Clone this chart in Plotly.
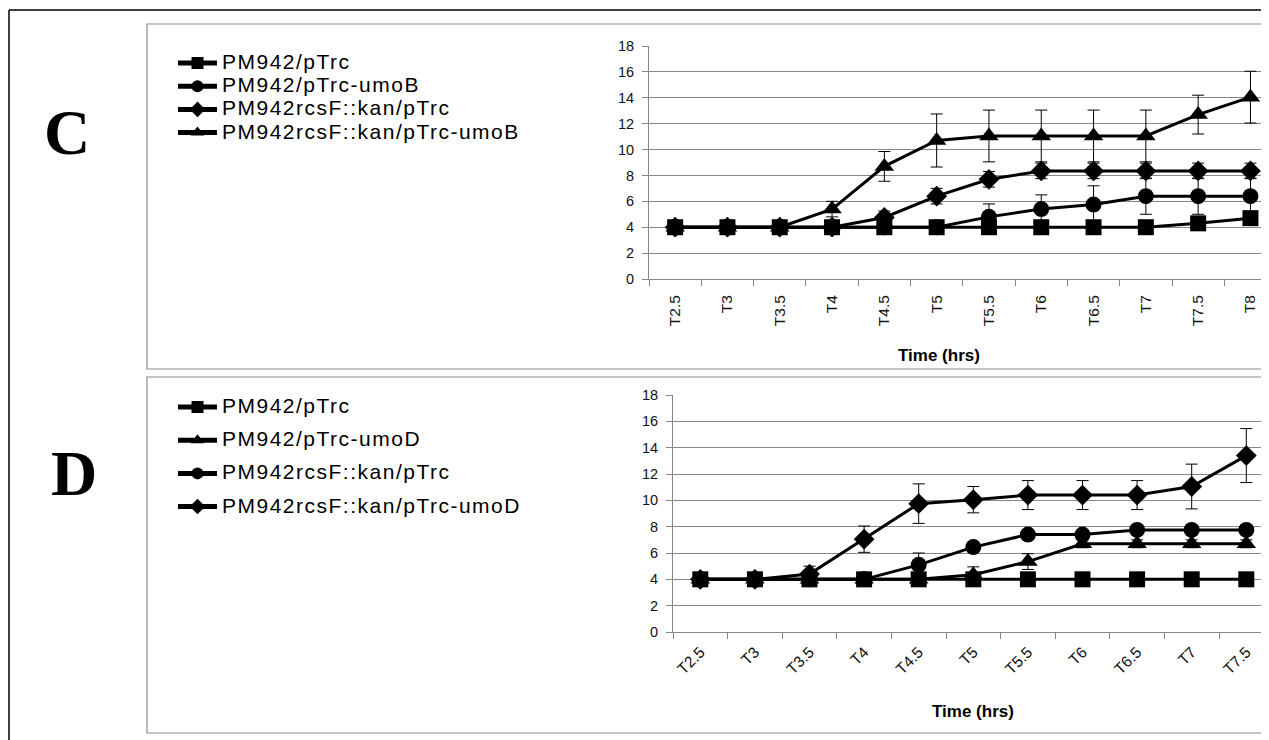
import plotly.graph_objects as go

W, H = 1269, 740
OFF = 8  # page body margin offset of the html page

# ---------------- Data ----------------
cats_c = ["T2.5", "T3", "T3.5", "T4", "T4.5", "T5", "T5.5", "T6", "T6.5", "T7", "T7.5", "T8"]
cats_d = ["T2.5", "T3", "T3.5", "T4", "T4.5", "T5", "T5.5", "T6", "T6.5", "T7", "T7.5"]

names_c = ["PM942/pTrc", "PM942/pTrc-umoB", "PM942rcsF::kan/pTrc", "PM942rcsF::kan/pTrc-umoB"]
symbols_c = ["square", "circle", "diamond", "triangle-up"]

c_sq = [4, 4, 4, 4, 4, 4, 4, 4, 4, 4, 4.3, 4.7]
c_sq_err = [0, 0, 0, 0, 0, 0, 0, 0, 0, 0, 0, 0]
c_ci = [4, 4, 4, 4, 4, 4, 4.8, 5.4, 5.75, 6.4, 6.4, 6.4]
c_ci_err = [0, 0, 0, 0, 0, 0, 1.0, 1.1, 1.45, 1.4, 1.4, 1.4]
c_di = [4, 4, 4, 4, 4.75, 6.4, 7.7, 8.35, 8.35, 8.35, 8.35, 8.35]
c_di_err = [0, 0, 0, 0, 0.5, 0.6, 0.6, 0.6, 0.6, 0.6, 0.6, 0.6]
c_tr = [4, 4, 4, 5.4, 8.7, 10.7, 11.05, 11.05, 11.05, 11.05, 12.7, 14.05]
c_tr_err = [0, 0, 0, 0.6, 1.15, 2.05, 2.0, 2.0, 2.0, 2.0, 1.5, 2.0]

names_d = ["PM942/pTrc", "PM942/pTrc-umoD", "PM942rcsF::kan/pTrc", "PM942rcsF::kan/pTrc-umoD"]
symbols_d = ["square", "triangle-up", "circle", "diamond"]

d_sq = [4, 4, 4, 4, 4, 4, 4, 4, 4, 4, 4]
d_sq_err = [0, 0, 0, 0, 0, 0, 0, 0, 0, 0, 0]
d_tr = [4, 4, 4, 4, 4, 4.35, 5.35, 6.7, 6.7, 6.7, 6.7]
d_tr_err = [0, 0, 0, 0, 0, 0.6, 0.6, 0.3, 0.3, 0.3, 0.3]
d_ci = [4, 4, 4, 4, 5.1, 6.45, 7.4, 7.4, 7.75, 7.75, 7.75]
d_ci_err = [0, 0, 0, 0, 0.9, 0.3, 0.3, 0.3, 0.3, 0.3, 0.3]
d_di = [4, 4, 4.4, 7.05, 9.75, 10.05, 10.4, 10.4, 10.4, 11.05, 13.4]
d_di_err = [0, 0, 0.6, 1.0, 1.5, 1.0, 1.1, 1.1, 1.1, 1.7, 2.05]

# ---------------- Helpers (screen pixel -> paper) ----------------
def px(x):
    return (x - OFF) / W

def py(y):
    return 1 - (y - OFF) / H

FONT = "Liberation Sans, Arial, sans-serif"
GRID = "#878787"
LEGEND_TEXT_STYLE = "font-size:21px;letter-spacing:1.5px"

marker_sizes = {"square": 16, "circle": 16, "diamond": 16, "triangle-up": 17}

fig = go.Figure()

def add_series(xcats, yvals, errs, name, sym, xa, ya, legend, group):
    fig.add_trace(go.Scatter(
        x=xcats, y=yvals,
        name=f'<span style="{LEGEND_TEXT_STYLE}">{name}</span>',
        mode="lines+markers",
        xaxis=xa, yaxis=ya, legend=legend, legendgroup=group,
        line=dict(color="black", width=3),
        marker=dict(symbol=sym, size=marker_sizes[sym], color="black"),
        error_y=dict(type="data", array=errs, visible=True, color="black",
                     thickness=1, width=6),
    ))

series_c = [(c_sq, c_sq_err), (c_ci, c_ci_err), (c_di, c_di_err), (c_tr, c_tr_err)]
for i, ((yv, er), nm, sym) in enumerate(zip(series_c, names_c, symbols_c)):
    add_series(cats_c, yv, er, nm, sym, "x", "y", "legend", f"c{i}")

series_d = [(d_sq, d_sq_err), (d_tr, d_tr_err), (d_ci, d_ci_err), (d_di, d_di_err)]
for i, ((yv, er), nm, sym) in enumerate(zip(series_d, names_d, symbols_d)):
    add_series(cats_d, yv, er, nm, sym, "x2", "y2", "legend2", f"d{i}")

# ---------------- Axes ----------------
c_left, c_step = 649, 52.3
d_left, d_step = 673, 54.6
right_edge = W + OFF  # screen x of paper x=1

xcommon = dict(type="category", showgrid=False, showline=True, linecolor=GRID,
               linewidth=1, ticks="outside", tickson="boundaries", ticklen=6,
               tickcolor=GRID, tickfont=dict(family=FONT, size=15.5, color="#111"),
               automargin=False, zeroline=False, fixedrange=True)
ycommon = dict(range=[0, 18], dtick=2, showgrid=True, gridcolor=GRID, gridwidth=1,
               showline=True, linecolor=GRID, linewidth=1, ticks="outside",
               ticklen=6, tickcolor=GRID, zeroline=False,
               tickfont=dict(family=FONT, size=14.5, color="#111"),
               automargin=False, ticklabelstandoff=5, fixedrange=True)

fig.update_layout(
    xaxis=dict(xcommon, domain=[px(c_left), 1], anchor="y",
               categoryorder="array", categoryarray=cats_c,
               range=[-0.5, (right_edge - c_left) / c_step - 0.5], tickangle=-90,
               ticklabelstandoff=9),
    yaxis=dict(ycommon, domain=[py(279), py(46)], anchor="x"),
    xaxis2=dict(xcommon, domain=[px(d_left), 1], anchor="y2",
                categoryorder="array", categoryarray=cats_d,
                range=[-0.5, (right_edge - d_left) / d_step - 0.5], tickangle=-45,
                ticklabelstandoff=4),
    yaxis2=dict(ycommon, domain=[py(632), py(395)], anchor="x2"),
)

# ---------------- Legends ----------------
fig.update_layout(
    legend=dict(x=px(173), y=py(46.5), xanchor="left", yanchor="top",
                font=dict(family=FONT, size=15.5, color="black"),
                bgcolor="rgba(0,0,0,0)", tracegroupgap=0, itemwidth=39,
                itemsizing="constant"),
    legend2=dict(x=px(173), y=py(390.5), xanchor="left", yanchor="top",
                 font=dict(family=FONT, size=15.5, color="black"),
                 bgcolor="rgba(0,0,0,0)", tracegroupgap=10, itemwidth=39,
                 itemsizing="constant"),
    showlegend=True,
)

# ---------------- Frames / labels ----------------
shapes = [
    dict(type="line", xref="paper", yref="paper", x0=px(9), x1=px(9), y0=py(10), y1=py(760),
         line=dict(color="black", width=1.5)),
    dict(type="line", xref="paper", yref="paper", x0=px(9), x1=px(1290), y0=py(10), y1=py(10),
         line=dict(color="black", width=1.5)),
    dict(type="rect", xref="paper", yref="paper", x0=px(147), x1=px(1300), y0=py(24), y1=py(369),
         line=dict(color="#8c8c8c", width=1.2)),
    dict(type="rect", xref="paper", yref="paper", x0=px(147), x1=px(1300), y0=py(377), y1=py(733),
         line=dict(color="#8c8c8c", width=1.2)),
]

SERIF = "Liberation Serif, Times New Roman, serif"
annotations = [
    dict(text="<b>C</b>", x=px(67), y=py(133), xref="paper", yref="paper", showarrow=False,
         font=dict(family=SERIF, size=64, color="black"),
         xanchor="center", yanchor="middle"),
    dict(text="<b>D</b>", x=px(74), y=py(473), xref="paper", yref="paper", showarrow=False,
         font=dict(family=SERIF, size=64, color="black"),
         xanchor="center", yanchor="middle"),
    dict(text="<b>Time (hrs)</b>", x=px(939), y=py(355), xref="paper", yref="paper",
         showarrow=False, font=dict(family=FONT, size=17, color="black"),
         xanchor="center", yanchor="middle"),
    dict(text="<b>Time (hrs)</b>", x=px(973), y=py(711), xref="paper", yref="paper",
         showarrow=False, font=dict(family=FONT, size=17, color="black"),
         xanchor="center", yanchor="middle"),
]

fig.update_layout(
    width=W, height=H, margin=dict(l=0, r=0, t=0, b=0),
    paper_bgcolor="white", plot_bgcolor="white",
    shapes=shapes, annotations=annotations,
)

fig.write_html("out.html")
